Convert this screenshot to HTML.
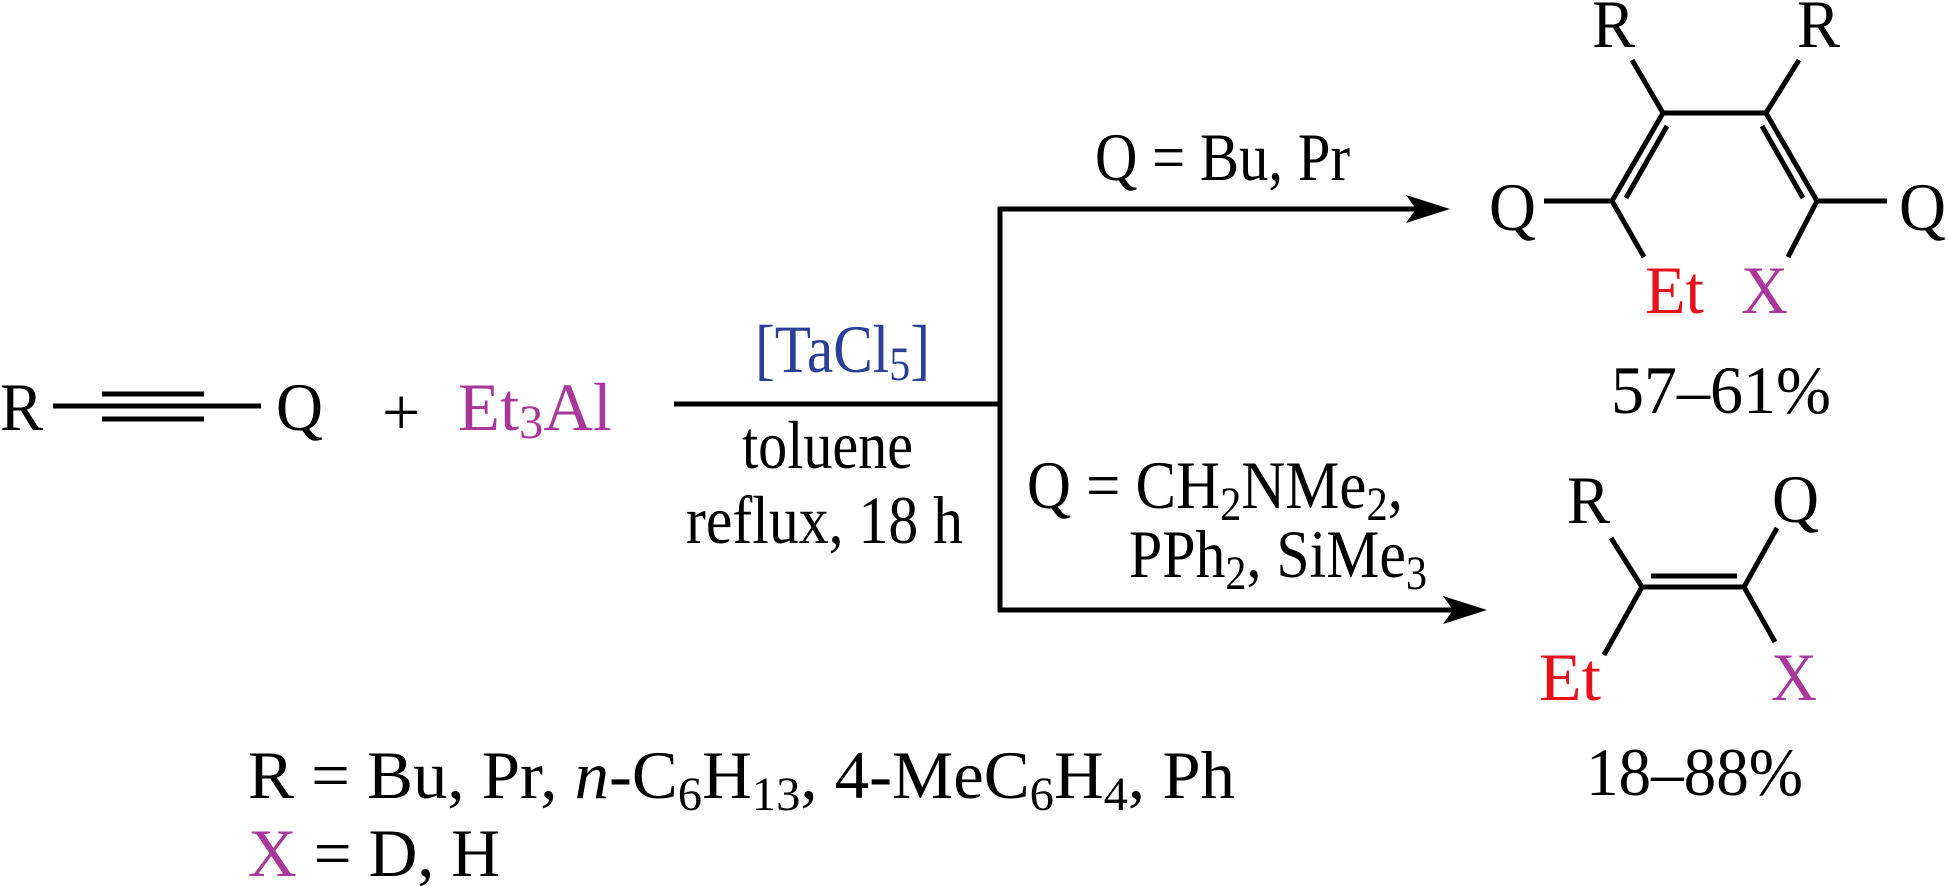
<!DOCTYPE html>
<html><head><meta charset="utf-8"><style>
html,body{margin:0;padding:0;background:#fff;}
svg{display:block;}
text{font-family:"Liberation Serif",serif;font-size:68px;fill:#000;}
.m{fill:#a8389a;} .r{fill:#e8101c;} .b{fill:#2b3f99;}
</style></head><body>
<svg width="1948" height="886" viewBox="0 0 1948 886" xmlns="http://www.w3.org/2000/svg">
<g stroke="#000" stroke-width="5" fill="none">
<line x1="53" y1="406" x2="261" y2="406"/>
<line x1="102" y1="394" x2="204" y2="394"/>
<line x1="102" y1="419" x2="204" y2="419"/>
<line x1="674" y1="404" x2="1000" y2="404"/>
<line x1="1000" y1="207" x2="1000" y2="612"/>
<line x1="998" y1="209" x2="1420" y2="209"/>
<line x1="998" y1="610" x2="1455" y2="610"/>
<line x1="1632" y1="60" x2="1663" y2="113"/>
<line x1="1663" y1="113" x2="1766" y2="113"/>
<line x1="1799" y1="60" x2="1766" y2="113"/>
<line x1="1663" y1="113" x2="1612" y2="201"/>
<line x1="1667" y1="126" x2="1626" y2="198"/>
<line x1="1766" y1="113" x2="1817" y2="201"/>
<line x1="1762" y1="126" x2="1803" y2="198"/>
<line x1="1544" y1="201" x2="1612" y2="201"/>
<line x1="1817" y1="201" x2="1887" y2="201"/>
<line x1="1612" y1="201" x2="1644" y2="257"/>
<line x1="1817" y1="201" x2="1788" y2="257"/>
<line x1="1611" y1="538" x2="1642" y2="587"/>
<line x1="1642" y1="587" x2="1744" y2="587"/>
<line x1="1651" y1="576" x2="1737" y2="576"/>
<line x1="1744" y1="587" x2="1777" y2="528"/>
<line x1="1642" y1="587" x2="1604" y2="655"/>
<line x1="1744" y1="587" x2="1775" y2="642"/>
</g>
<polygon points="1450,209 1406,195 1416,209 1406,223" fill="#000"/>
<polygon points="1487,610 1443,596 1453,610 1443,624" fill="#000"/>
<text x="0" y="430" textLength="43" lengthAdjust="spacingAndGlyphs">R</text>
<text x="276" y="430" textLength="47" lengthAdjust="spacingAndGlyphs">Q</text>
<text x="382" y="435">+</text>
<text x="458" y="430" class="m" textLength="154" lengthAdjust="spacingAndGlyphs">Et<tspan font-size="48" dy="8">3</tspan><tspan dy="-8">Al</tspan></text>
<text x="755" y="372" class="b" textLength="175" lengthAdjust="spacingAndGlyphs">[TaCl<tspan font-size="48" dy="8">5</tspan><tspan dy="-8">]</tspan></text>
<text x="742" y="468" textLength="171" lengthAdjust="spacingAndGlyphs">toluene</text>
<text x="686" y="543" textLength="277" lengthAdjust="spacingAndGlyphs">reflux, 18 h</text>
<text x="1095" y="180" textLength="255" lengthAdjust="spacingAndGlyphs">Q = Bu, Pr</text>
<text x="1027" y="508" textLength="376" lengthAdjust="spacingAndGlyphs">Q = CH<tspan font-size="48" dy="12">2</tspan><tspan dy="-12">NMe</tspan><tspan font-size="48" dy="12">2</tspan><tspan dy="-12">,</tspan></text>
<text x="1129" y="577" textLength="298" lengthAdjust="spacingAndGlyphs">PPh<tspan font-size="48" dy="12">2</tspan><tspan dy="-12">, SiMe</tspan><tspan font-size="48" dy="12">3</tspan></text>
<text x="1592" y="47" textLength="43" lengthAdjust="spacingAndGlyphs">R</text>
<text x="1797" y="47" textLength="43" lengthAdjust="spacingAndGlyphs">R</text>
<text x="1489" y="230" textLength="47" lengthAdjust="spacingAndGlyphs">Q</text>
<text x="1899" y="230" textLength="47" lengthAdjust="spacingAndGlyphs">Q</text>
<text x="1645" y="313" class="r" textLength="59" lengthAdjust="spacingAndGlyphs">Et</text>
<text x="1741" y="313" class="m" textLength="47" lengthAdjust="spacingAndGlyphs">X</text>
<text x="1611" y="413" textLength="220" lengthAdjust="spacingAndGlyphs">57–61%</text>
<text x="1567" y="523" textLength="43" lengthAdjust="spacingAndGlyphs">R</text>
<text x="1772" y="522" textLength="47" lengthAdjust="spacingAndGlyphs">Q</text>
<text x="1539" y="700" class="r" textLength="62" lengthAdjust="spacingAndGlyphs">Et</text>
<text x="1771" y="700" class="m" textLength="46" lengthAdjust="spacingAndGlyphs">X</text>
<text x="1586" y="795" textLength="217" lengthAdjust="spacingAndGlyphs">18–88%</text>
<text x="248" y="798" textLength="987" lengthAdjust="spacingAndGlyphs">R = Bu, Pr, <tspan font-style="italic">n</tspan>-C<tspan font-size="48" dy="12">6</tspan><tspan dy="-12">H</tspan><tspan font-size="48" dy="12">13</tspan><tspan dy="-12">, 4-MeC</tspan><tspan font-size="48" dy="12">6</tspan><tspan dy="-12">H</tspan><tspan font-size="48" dy="12">4</tspan><tspan dy="-12">, Ph</tspan></text>
<text x="248" y="876" textLength="252" lengthAdjust="spacingAndGlyphs"><tspan class="m">X</tspan> = D, H</text>
</svg>
</body></html>
